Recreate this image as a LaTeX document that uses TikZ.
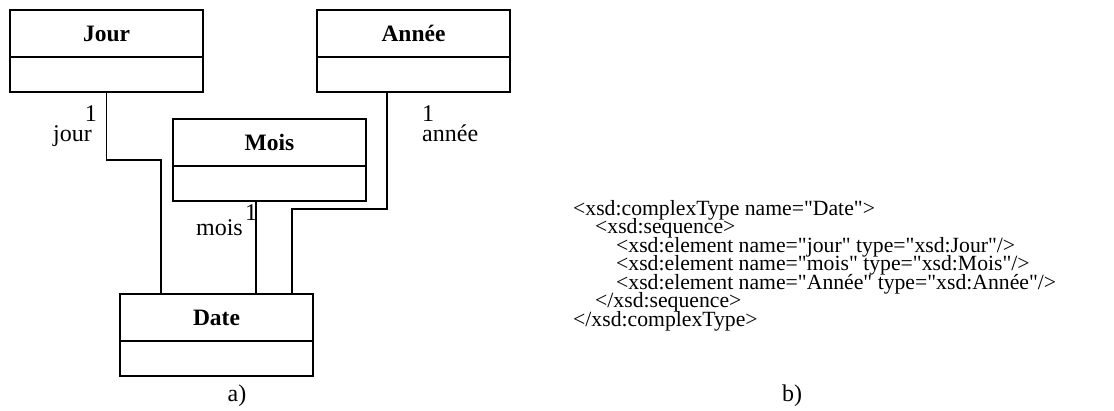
\documentclass[tikz,border=0pt]{standalone}
\usepackage{fontspec}
\setmainfont{Liberation Serif}[Ligatures=TeXOff]
\begin{document}
\begin{tikzpicture}[x=1pt,y=-1pt,
  txt/.style={font=\fontsize{21.7}{18.5}\selectfont, inner sep=0pt},
  lbl/.style={font=\fontsize{24}{24}\selectfont, inner sep=0pt},
  head/.style={draw, line width=1.8pt, outer sep=0pt, minimum width=193pt, minimum height=47pt, inner sep=0pt, font=\fontsize{23.5}{23.5}\selectfont\bfseries},
  body/.style={draw, line width=1.8pt, outer sep=0pt, minimum width=193pt, minimum height=35pt, inner sep=0pt},
  link/.style={line width=1.8pt}]
\useasboundingbox (0,0) rectangle (1114,410);
% classes
\node[head, anchor=north west] (jourT) at (10,10) {Jour};
\node[body, anchor=north] (jourB) at (jourT.south) {};
\node[head, anchor=north west] (anneeT) at (317,10) {Année};
\node[body, anchor=north] (anneeB) at (anneeT.south) {};
\node[head, anchor=north west] (moisT) at (173,119) {Mois};
\node[body, anchor=north] (moisB) at (moisT.south) {};
\node[head, anchor=north west] (dateT) at (120,294) {Date};
\node[body, anchor=north] (dateB) at (dateT.south) {};
% junctions
\coordinate (j1) at (161,160);
\coordinate (m1) at (256,0);
\coordinate (a0) at (387,0);
\coordinate (a1) at (292,209);
% connectors
\draw[link] (jourB.south) |- (j1) -- (j1 |- dateT.north);
\draw[link] (m1 |- moisB.south) -- (m1 |- dateT.north);
\draw[link] (a0 |- anneeB.south) |- (a1) -- (a1 |- dateT.north);
% labels
\node[lbl, anchor=base east] (l1) at (97,121) {1};
\node[lbl, anchor=base east] (l2) at (92,141) {jour};
\node[lbl, anchor=base west] (l3) at (422,121) {1};
\node[lbl, anchor=base west] (l4) at (422,141) {année};
\node[lbl, anchor=base east] (l5) at (243,235) {mois};
\node[lbl, anchor=base west] (l6) at (245,220) {1};
\node[lbl, anchor=base] (ca) at (237,401) {a)};
\node[lbl, anchor=base] (cb) at (792,401) {b)};
% xsd
\node[txt, anchor=base west] (x1) at (573,215) {<xsd:complexType name="Date">};
\node[txt, anchor=base west] (x2) at (595,233.5) {<xsd:sequence>};
\node[txt, anchor=base west] (x3) at (616,252) {<xsd:element name="jour" type="xsd:Jour"/>};
\node[txt, anchor=base west] (x4) at (616,270.5) {<xsd:element name="mois" type="xsd:Mois"/>};
\node[txt, anchor=base west] (x5) at (616,289) {<xsd:element name="Année" type="xsd:Année"/>};
\node[txt, anchor=base west] (x6) at (595,307.5) {</xsd:sequence>};
\node[txt, anchor=base west] (x7) at (573,326) {</xsd:complexType>};
\end{tikzpicture}
\end{document}
